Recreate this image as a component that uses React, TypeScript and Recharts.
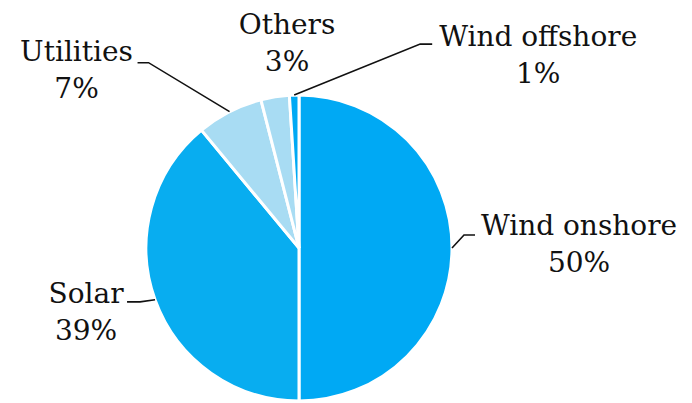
import { PieChart, Pie, Cell } from "recharts";

const SOURCES = ["Wind onshore", "Solar", "Utilities", "Others", "Wind offshore"];
const SHARES = [50, 39, 7, 3, 1];
const COLORS = ["#00A9F4", "#08ADF0", "#A8DCF3", "#A8DCF3", "#00A9F4"];

// where each label sits, relative to the slice's outer anchor (style only)
const LABEL_LAYOUT = [
  { elbow: [12, -13], end: [23, -13], text: [127, -13], anchor: "middle" },
  { elbow: [-15, 2], end: [-28, 2], text: [-69, 3], anchor: "middle" },
  { elbow: [-81, -49], end: [-92, -49], text: [-153, -51], anchor: "middle" },
  { elbow: null, end: null, text: [12, -63], anchor: "middle" },
  { elbow: [126, -51], end: [138, -51], text: [244, -49], anchor: "middle" },
];

const data = SOURCES.map((name, i) => ({ name, value: SHARES[i] }));

const RAD = Math.PI / 180;

function renderLabel(props: any) {
  const { cx, cy, midAngle, outerRadius, index, name, value } = props;
  const layout = LABEL_LAYOUT[index];
  const ax = cx + outerRadius * Math.cos(-midAngle * RAD);
  const ay = cy + outerRadius * Math.sin(-midAngle * RAD);
  const tx = ax + layout.text[0];
  const ty = ay + layout.text[1];
  return (
    <g key={`lbl-${index}`}>
      {layout.elbow && layout.end && (
        <polyline
          points={`${ax},${ay} ${ax + layout.elbow[0]},${ay + layout.elbow[1]} ${ax + layout.end[0]},${ay + layout.end[1]}`}
          fill="none"
          stroke="#111"
          strokeWidth={1.6}
        />
      )}
      <text x={tx} y={ty} textAnchor={layout.anchor} fill="#111" fontSize={28} fontFamily="'DejaVu Serif', serif">
        {name}
      </text>
      <text x={tx} y={ty + 37} textAnchor={layout.anchor} fill="#111" fontSize={28} fontFamily="'DejaVu Serif', serif">
        {value}%
      </text>
    </g>
  );
}

export default function App() {
  return (
    <div style={{ position: "fixed", left: 0, top: 0, width: 692, height: 403, background: "#fff" }}>
      <PieChart width={692} height={403} margin={{ top: 0, right: 0, bottom: 0, left: 0 }}>
        <Pie
          data={data}
          dataKey="value"
          nameKey="name"
          cx={299}
          cy={248}
          innerRadius={0}
          outerRadius={153}
          startAngle={90}
          endAngle={-270}
          stroke="#fff"
          strokeWidth={3}
          label={renderLabel}
          labelLine={false}
          isAnimationActive={false}
        >
          {data.map((d, i) => (
            <Cell key={d.name} fill={COLORS[i]} />
          ))}
        </Pie>
      </PieChart>
    </div>
  );
}
